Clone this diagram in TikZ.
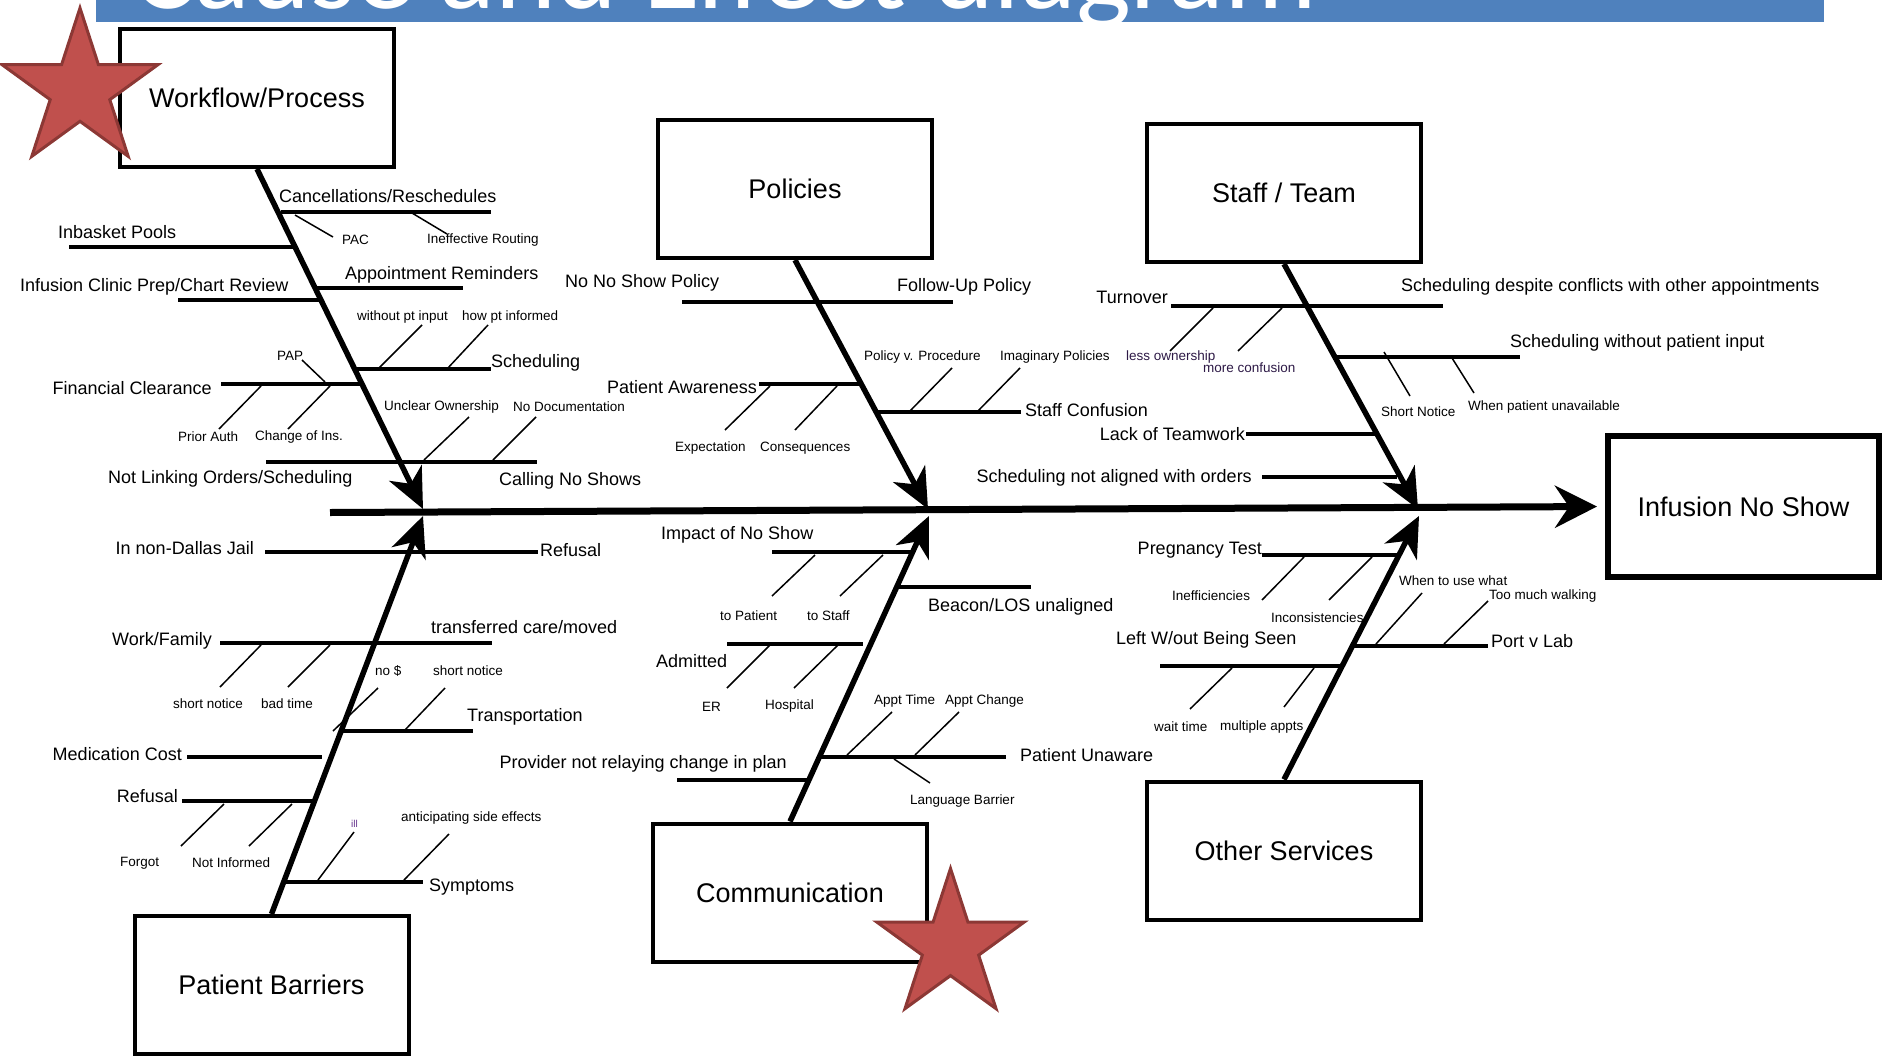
\documentclass[tikz,border=0pt]{standalone}
\usepackage{fontspec}
\setmainfont{Liberation Sans}
\newfontfamily\titlefont{Carlito}
\usetikzlibrary{arrows.meta, shapes.geometric}
\definecolor{bannerblue}{RGB}{79,129,189}
\definecolor{starred}{RGB}{192,80,77}
\definecolor{stardark}{RGB}{140,56,53}
\definecolor{notepurple}{RGB}{45,25,70}
\definecolor{illpurple}{RGB}{100,50,140}

\begin{document}
\begin{tikzpicture}[
    x=1pt, y=-1pt,
    cat/.style={draw, line width=4pt, minimum width=274pt, minimum height=138pt, inner sep=0pt, font=\fontsize{27}{30}\selectfont},
    lbl/.style={inner sep=0pt, font=\fontsize{18}{20}\selectfont},
    tiny/.style={inner sep=0pt, font=\fontsize{13.5}{15}\selectfont},
    bone/.style={line width=5.5pt, -{Stealth[length=40pt, width=36pt, inset=12pt]}},
    spine/.style={line width=7pt, -{Stealth[length=42pt, width=42pt, inset=14pt]}},
    rib/.style={line width=3.5pt},
    twig/.style={line width=1.5pt},
    mark star/.style={star, star points=5, star point ratio=2.618, inner sep=0pt, fill=starred, draw=stardark, line width=3pt}
]
    \useasboundingbox (0,0) rectangle (1882,1055);

    % Title banner
    \fill[bannerblue] (96,0) rectangle (1824,22);
    \begin{scope}
        \clip (96,0) rectangle (1824,22);
        \node[anchor=base west, inner sep=0pt, text=white, font=\titlefont\fontsize{116}{116}\selectfont] (title) at (132,8) {Cause and Effect diagram};
    \end{scope}

    % Head and categories
    \node[draw, line width=6pt, minimum width=271pt, minimum height=141pt, inner sep=0pt, font=\fontsize{27}{30}\selectfont] (effect) at (1743.5,506.5) {Infusion No Show};
    \node[cat] (workflow) at (257,98) {Workflow/Process};
    \node[cat] (policies) at (795,189) {Policies};
    \node[cat] (staff) at (1284,193) {Staff / Team};
    \node[cat] (barriers) at (271.5,985) {Patient Barriers};
    \node[cat] (comm) at (790,892.5) {Communication};
    \node[cat] (other) at (1284,850.5) {Other Services};

    \coordinate (tail) at (330,512.5);
    \coordinate (wfTip) at (423,509);
    \coordinate (polTip) at (928,509);
    \coordinate (stTip) at (1418,509);
    \coordinate (pbTip) at (423,516);
    \coordinate (cmTip) at (929,516);
    \coordinate (osTip) at (1419,516);

    % Workflow/Process
    \draw[rib] (281,212) -- (491,212);
    \draw[twig] (295,215) -- (333,237);
    \draw[twig] (412,213) -- (447,234);
    \draw[rib] (69,247) -- (295,247);
    \draw[rib] (317,288) -- (463,288);
    \draw[rib] (178,300) -- (321,300);
    \draw[twig] (378,369) -- (422,325);
    \draw[twig] (447,369) -- (488,325);
    \draw[rib] (355,369) -- (491,369);
    \draw[rib] (221,384) -- (362,384);
    \draw[twig] (302,360) -- (325,382);
    \draw[twig] (261,386) -- (219,429);
    \draw[twig] (330,386) -- (288,429);
    \draw[rib] (266,462) -- (537,462);
    \draw[twig] (469,417) -- (424,460);
    \draw[twig] (536,417) -- (493,460);

    % Policies
    \draw[rib] (682,302) -- (953,302);
    \draw[rib] (759,384) -- (862,384);
    \draw[twig] (770,386) -- (725,430);
    \draw[twig] (837,386) -- (795,430);
    \draw[rib] (877,412) -- (1021,412);
    \draw[twig] (909,412) -- (952,368);
    \draw[twig] (977,412) -- (1020,368);

    % Staff / Team
    \draw[rib] (1171,306) -- (1443,306);
    \draw[twig] (1213,308) -- (1170,351);
    \draw[twig] (1282,308) -- (1238,351);
    \draw[rib] (1336,357) -- (1520,357);
    \draw[twig] (1384,352) -- (1410,396);
    \draw[twig] (1452,358) -- (1474,393);
    \draw[rib] (1246,434) -- (1377,434);
    \draw[rib] (1262,477) -- (1397,477);

    % Patient Barriers
    \draw[rib] (265,552) -- (538,552);
    \draw[rib] (220,643) -- (492,643);
    \draw[twig] (261,645) -- (220,687);
    \draw[twig] (330,645) -- (288,687);
    \draw[rib] (342,731) -- (473,731);
    \draw[twig] (378,688) -- (333,731);
    \draw[twig] (445,688) -- (404,731);
    \draw[rib] (187,757) -- (322,757);
    \draw[rib] (182,801) -- (316,801);
    \draw[twig] (224,804) -- (181,846);
    \draw[twig] (292,804) -- (249,846);
    \draw[rib] (285,882) -- (423,882);
    \draw[twig] (318,880) -- (354,832);
    \draw[twig] (404,880) -- (449,834);

    % Communication
    \draw[rib] (772,552) -- (913,552);
    \draw[twig] (815,555) -- (772,596);
    \draw[twig] (883,555) -- (840,596);
    \draw[rib] (897,587) -- (1031,587);
    \draw[rib] (727,644) -- (863,644);
    \draw[twig] (770,645) -- (727,688);
    \draw[twig] (838,645) -- (794,688);
    \draw[rib] (677,780) -- (810,780);
    \draw[rib] (820,757) -- (1006,757);
    \draw[twig] (847,755) -- (892,712);
    \draw[twig] (915,755) -- (959,712);
    \draw[twig] (894,759) -- (930,783);

    % Other Services
    \draw[rib] (1262,555) -- (1399,555);
    \draw[twig] (1304,557) -- (1262,600);
    \draw[twig] (1372,557) -- (1329,600);
    \draw[rib] (1353,646) -- (1488,646);
    \draw[twig] (1422,593) -- (1376,644);
    \draw[twig] (1488,601) -- (1444,644);
    \draw[rib] (1160,666) -- (1343,666);
    \draw[twig] (1232,668) -- (1190,709);
    \draw[twig] (1314,668) -- (1284,707);

    % Spine and bones
    \draw[spine, shorten >=8pt] (tail) -- (effect.west);
    \draw[bone] (workflow.south) -- (wfTip);
    \draw[bone] (policies.south) -- (polTip);
    \draw[bone] (staff.south) -- (stTip);
    \draw[bone] (barriers.north) -- (pbTip);
    \draw[bone] (comm.north) -- (cmTip);
    \draw[bone] (other.north) -- (osTip);

    % Stars
    \node[mark star, minimum size=164pt] (star1) at (80,90) {};
    \node[mark star, minimum size=155pt] (star2) at (950.5,946) {};

    % Labels: Workflow/Process
    \node[lbl, anchor=west] (cancel) at (279,196) {Cancellations/Reschedules};
    \node[tiny, anchor=west] (pac) at (342,240) {PAC};
    \node[tiny, anchor=west] (ineff) at (427,240) {Ineffective Routing};
    \node[lbl, anchor=west] (inbasket) at (58,232) {Inbasket Pools};
    \node[lbl, anchor=west] (reminders) at (345,275) {Appointment Reminders};
    \node[lbl, anchor=west] (chartrev) at (20,287) {Infusion Clinic Prep/Chart Review};
    \node[tiny, anchor=west] (noinput) at (357,317) {without pt input};
    \node[tiny, anchor=west] (howinf) at (462,317) {how pt informed};
    \node[lbl, anchor=west] (sched) at (491,363) {Scheduling};
    \node[lbl, anchor=east] (fin) at (212,388) {Financial Clearance};
    \node[tiny, anchor=west] (pap) at (277,356) {PAP};
    \node[tiny, anchor=west] (priorauth) at (178,437) {Prior Auth};
    \node[tiny, anchor=west] (changeins) at (255,437) {Change of Ins.};
    \node[lbl, anchor=west] (nolink) at (108,479) {Not Linking Orders/Scheduling};
    \node[lbl, anchor=west] (calling) at (499,481) {Calling No Shows};
    \node[tiny, anchor=west] (unclear) at (384,407) {Unclear Ownership};
    \node[tiny, anchor=west] (nodoc) at (513,407) {No Documentation};

    % Labels: Policies
    \node[lbl, anchor=west] (nonoshow) at (565,283) {No No Show Policy};
    \node[lbl, anchor=west] (followup) at (897,287) {Follow-Up Policy};
    \node[lbl, anchor=east] (ptaware) at (757,387) {Patient Awareness};
    \node[tiny, anchor=west] (expect) at (675,448) {Expectation};
    \node[tiny, anchor=west] (conseq) at (760,448) {Consequences};
    \node[lbl, anchor=west] (staffconf) at (1025,410) {Staff Confusion};
    \node[tiny, anchor=west] (polproc) at (864,357) {Policy v. Procedure};
    \node[tiny, anchor=west] (imagpol) at (1000,357) {Imaginary Policies};

    % Labels: Staff / Team
    \node[lbl, anchor=east] (turnover) at (1168,297) {Turnover};
    \node[lbl, anchor=west] (despite) at (1401,287) {Scheduling despite conflicts with other appointments};
    \node[tiny, anchor=west, text=notepurple] (lessown) at (1126,357) {less ownership};
    \node[tiny, anchor=west, text=notepurple] (moreconf) at (1203,368) {more confusion};
    \node[lbl, anchor=west] (withoutpt) at (1510,343) {Scheduling without patient input};
    \node[tiny, anchor=west] (shortnot1) at (1381,412) {Short Notice};
    \node[tiny, anchor=west] (unavail) at (1468,407) {When patient unavailable};
    \node[lbl, anchor=east] (teamwork) at (1245,434) {Lack of Teamwork};
    \node[lbl, anchor=east] (notalign) at (1252,478) {Scheduling not aligned with orders};

    % Labels: Patient Barriers
    \node[lbl, anchor=east] (jail) at (254,548) {In non-Dallas Jail};
    \node[lbl, anchor=west] (refusal1) at (540,550) {Refusal};
    \node[lbl, anchor=east] (workfam) at (212,641) {Work/Family};
    \node[lbl, anchor=west] (transfer) at (431,627) {transferred care/moved};
    \node[tiny, anchor=west] (shortnot2) at (173,704) {short notice};
    \node[tiny, anchor=west] (badtime) at (261,704) {bad time};
    \node[lbl, anchor=west] (transport) at (467,717) {Transportation};
    \node[tiny, anchor=west] (nomoney) at (375,671) {no \$};
    \node[tiny, anchor=west] (shortnot3) at (433,671) {short notice};
    \node[lbl, anchor=east] (medcost) at (182,754) {Medication Cost};
    \node[lbl, anchor=east] (refusal2) at (178,796) {Refusal};
    \node[tiny, anchor=west] (forgot) at (120,863) {Forgot};
    \node[tiny, anchor=west] (notinf) at (192,863) {Not Informed};
    \node[lbl, anchor=west] (symptoms) at (429,887) {Symptoms};
    \node[inner sep=0pt, font=\fontsize{10}{11}\selectfont, text=illpurple, anchor=west] (ill) at (351,824) {ill};
    \node[tiny, anchor=west] (sidefx) at (401,818) {anticipating side effects};

    % Labels: Communication
    \node[lbl, anchor=west] (impact) at (661,535) {Impact of No Show};
    \node[tiny, anchor=west] (topat) at (720,616) {to Patient};
    \node[tiny, anchor=west] (tostaff) at (807,616) {to Staff};
    \node[lbl, anchor=west] (beacon) at (928,607) {Beacon/LOS unaligned};
    \node[lbl, anchor=west] (admitted) at (656,661) {Admitted};
    \node[tiny, anchor=west] (er) at (702,707) {ER};
    \node[tiny, anchor=west] (hospital) at (765,706) {Hospital};
    \node[lbl, anchor=east] (relay) at (787,764) {Provider not relaying change in plan};
    \node[lbl, anchor=west] (unaware) at (1020,755) {Patient Unaware};
    \node[tiny, anchor=west] (appttime) at (874,701) {Appt Time};
    \node[tiny, anchor=west] (apptchg) at (945,701) {Appt Change};
    \node[tiny, anchor=west] (language) at (910,801) {Language Barrier};

    % Labels: Other Services
    \node[lbl, anchor=east] (preg) at (1262,550) {Pregnancy Test};
    \node[tiny, anchor=west] (ineffic) at (1172,596) {Inefficiencies};
    \node[tiny, anchor=west] (inconsist) at (1271,618) {Inconsistencies};
    \node[lbl, anchor=west] (portlab) at (1491,641) {Port v Lab};
    \node[tiny, anchor=west] (whenuse) at (1399,581) {When to use what};
    \node[tiny, anchor=west] (walking) at (1489,596) {Too much walking};
    \node[lbl, anchor=west] (leftwo) at (1116,640) {Left W/out Being Seen};
    \node[tiny, anchor=west] (waittime) at (1154,727) {wait time};
    \node[tiny, anchor=west] (multappt) at (1220,727) {multiple appts};
\end{tikzpicture}
\end{document}
